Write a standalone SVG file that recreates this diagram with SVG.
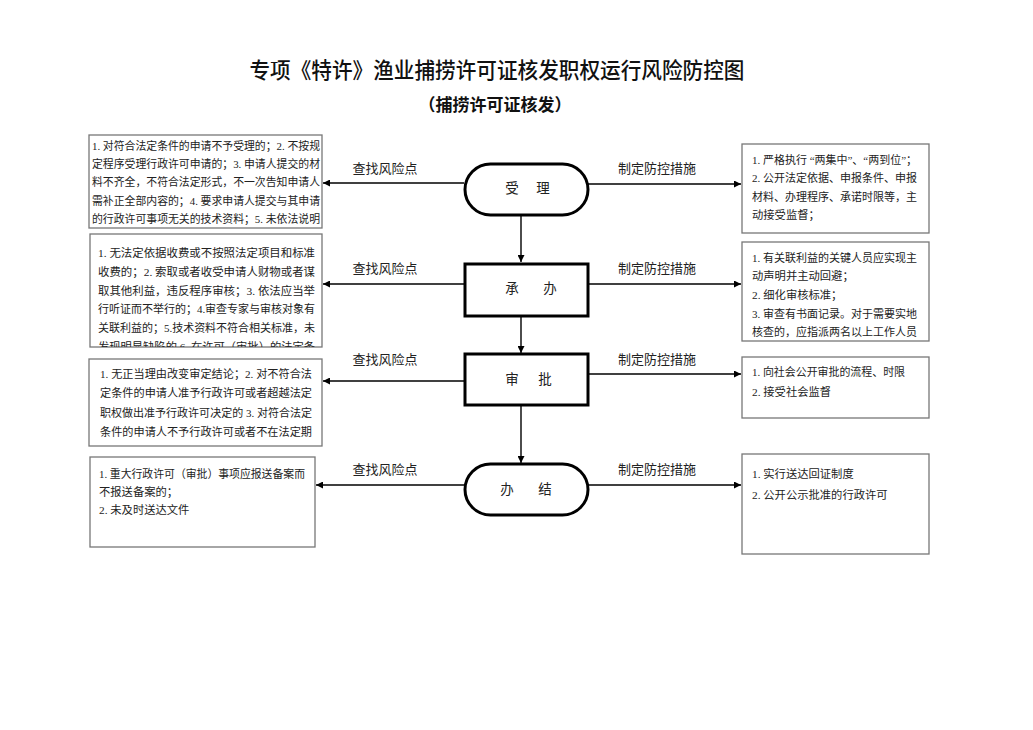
<svg xmlns="http://www.w3.org/2000/svg" width="1033" height="730" viewBox="0 0 1033 730">
<defs>
<style>
.title{font-family:"Noto Sans CJK SC","Noto Sans",sans-serif;fill:#111;}
.body{font-family:"Liberation Serif","Noto Sans CJK SC",serif;font-size:11.3px;fill:#222;}
.lbl{font-family:"Liberation Serif","Noto Sans CJK SC",serif;font-size:13px;fill:#222;}
.nodet{font-family:"Noto Sans CJK SC",serif;font-size:13.5px;fill:#222;text-anchor:middle;}
.box{fill:#fff;stroke:#777;stroke-width:1.3;}
.node{fill:#fff;stroke:#000;stroke-width:3;}
.conn{stroke:#000;stroke-width:1.4;fill:none;marker-end:url(#ah);}
</style>
<marker id="ah" viewBox="0 0 10 10" refX="10" refY="5" markerWidth="7" markerHeight="7" markerUnits="userSpaceOnUse" orient="auto">
<path d="M0,0 L10,5 L0,10 z" fill="#000"/>
</marker>
<clipPath id="clipL2"><rect x="90" y="234" width="232" height="113"/></clipPath>
</defs>
<rect width="1033" height="730" fill="#fff"/>

<g id="title">
<text class="title" x="497" y="78" font-size="21.5" font-weight="500" text-anchor="middle" textLength="495" lengthAdjust="spacingAndGlyphs">专项《特许》渔业捕捞许可证核发职权运行风险防控图</text>
<text class="title" x="495" y="111" font-size="17" font-weight="bold" text-anchor="middle">（捕捞许可证核发）</text>
</g>

<g id="connectors">
<line class="conn" x1="521" y1="215" x2="521" y2="262"/>
<line class="conn" x1="521" y1="316" x2="521" y2="353"/>
<line class="conn" x1="521" y1="405" x2="521" y2="463"/>
<line class="conn" x1="464" y1="183" x2="323" y2="183"/>
<line class="conn" x1="588" y1="184" x2="741" y2="184"/>
<line class="conn" x1="465" y1="284" x2="323" y2="284"/>
<line class="conn" x1="588" y1="284" x2="741" y2="284"/>
<line class="conn" x1="464" y1="381" x2="323" y2="381"/>
<line class="conn" x1="588" y1="374" x2="741" y2="374"/>
<line class="conn" x1="464" y1="485" x2="316" y2="485"/>
<line class="conn" x1="588" y1="485" x2="741" y2="485"/>
<text class="lbl" x="385" y="173" text-anchor="middle">查找风险点</text>
<text class="lbl" x="657" y="173" text-anchor="middle">制定防控措施</text>
<text class="lbl" x="385" y="273" text-anchor="middle">查找风险点</text>
<text class="lbl" x="657" y="273" text-anchor="middle">制定防控措施</text>
<text class="lbl" x="385" y="364" text-anchor="middle">查找风险点</text>
<text class="lbl" x="657" y="364" text-anchor="middle">制定防控措施</text>
<text class="lbl" x="385" y="474" text-anchor="middle">查找风险点</text>
<text class="lbl" x="657" y="474" text-anchor="middle">制定防控措施</text>
</g>

<g id="node-shouli">
<rect class="node" x="465" y="164" width="123" height="51" rx="25.5"/>
<text class="nodet" x="512" y="193">受</text>
<text class="nodet" x="543" y="193">理</text>
</g>
<g id="node-chengban">
<rect class="node" x="465" y="264" width="123" height="52"/>
<text class="nodet" x="512" y="293">承</text>
<text class="nodet" x="550" y="293">办</text>
</g>
<g id="node-shenpi">
<rect class="node" x="465" y="354" width="123" height="51"/>
<text class="nodet" x="512" y="384">审</text>
<text class="nodet" x="545" y="384">批</text>
</g>
<g id="node-banjie">
<rect class="node" x="465" y="464" width="123" height="51" rx="25.5"/>
<text class="nodet" x="507" y="494">办</text>
<text class="nodet" x="545" y="494">结</text>
</g>

<g id="risk-1">
<rect class="box" x="89" y="135" width="233" height="93"/>
<text class="body" x="92" y="150" textLength="228" lengthAdjust="spacingAndGlyphs">1. 对符合法定条件的申请不予受理的；2. 不按规</text>
<text class="body" x="92" y="168" textLength="228" lengthAdjust="spacingAndGlyphs">定程序受理行政许可申请的；3. 申请人提交的材</text>
<text class="body" x="92" y="186" textLength="228" lengthAdjust="spacingAndGlyphs">料不齐全，不符合法定形式，不一次告知申请人</text>
<text class="body" x="92" y="205" textLength="228" lengthAdjust="spacingAndGlyphs">需补正全部内容的；4. 要求申请人提交与其申请</text>
<text class="body" x="92" y="223" textLength="228" lengthAdjust="spacingAndGlyphs">的行政许可事项无关的技术资料；5. 未依法说明</text>
</g>

<g id="risk-2">
<rect class="box" x="90" y="234" width="232" height="113"/>
<text class="body" x="98" y="257" textLength="217" lengthAdjust="spacingAndGlyphs">1. 无法定依据收费或不按照法定项目和标准</text>
<text class="body" x="98" y="276" textLength="217" lengthAdjust="spacingAndGlyphs">收费的；2. 索取或者收受申请人财物或者谋</text>
<text class="body" x="98" y="295" textLength="217" lengthAdjust="spacingAndGlyphs">取其他利益，违反程序审核；3. 依法应当举</text>
<text class="body" x="98" y="313" textLength="217" lengthAdjust="spacingAndGlyphs">行听证而不举行的；4.审查专家与审核对象有</text>
<text class="body" x="98" y="332" textLength="217" lengthAdjust="spacingAndGlyphs">关联利益的；5.技术资料不符合相关标准，未</text>
<text class="body" x="98" y="351" textLength="217" lengthAdjust="spacingAndGlyphs" clip-path="url(#clipL2)">发现明显缺陷的 6. 在许可（审批）的法定条</text>
</g>

<g id="risk-3">
<rect class="box" x="89" y="359" width="233" height="87"/>
<text class="body" x="100" y="378" textLength="212" lengthAdjust="spacingAndGlyphs">1. 无正当理由改变审定结论；2. 对不符合法</text>
<text class="body" x="100" y="397" textLength="212" lengthAdjust="spacingAndGlyphs">定条件的申请人准予行政许可或者超越法定</text>
<text class="body" x="100" y="417" textLength="212" lengthAdjust="spacingAndGlyphs">职权做出准予行政许可决定的 3. 对符合法定</text>
<text class="body" x="100" y="436" textLength="212" lengthAdjust="spacingAndGlyphs">条件的申请人不予行政许可或者不在法定期</text>
</g>

<g id="risk-4">
<rect class="box" x="90" y="457" width="225" height="90"/>
<text class="body" x="99" y="478" textLength="206" lengthAdjust="spacingAndGlyphs">1. 重大行政许可（审批）事项应报送备案而</text>
<text class="body" x="99" y="496">不报送备案的；</text>
<text class="body" x="99" y="514">2. 未及时送达文件</text>
</g>

<g id="measure-1">
<rect class="box" x="742" y="144" width="187" height="89"/>
<text class="body" x="752" y="164" textLength="165" lengthAdjust="spacingAndGlyphs">1. 严格执行 “两集中”、“两到位”；</text>
<text class="body" x="752" y="182" textLength="165" lengthAdjust="spacingAndGlyphs">2.  公开法定依据、申报条件、申报</text>
<text class="body" x="752" y="201" textLength="165" lengthAdjust="spacingAndGlyphs">材料、办理程序、承诺时限等，主</text>
<text class="body" x="752" y="219">动接受监督；</text>
</g>

<g id="measure-2">
<rect class="box" x="742" y="242" width="187" height="99"/>
<text class="body" x="752" y="262" textLength="165" lengthAdjust="spacingAndGlyphs">1. 有关联利益的关键人员应实现主</text>
<text class="body" x="752" y="280">动声明并主动回避；</text>
<text class="body" x="752" y="299">2. 细化审核标准；</text>
<text class="body" x="752" y="318" textLength="165" lengthAdjust="spacingAndGlyphs">3. 审查有书面记录。对于需要实地</text>
<text class="body" x="752" y="336" textLength="165" lengthAdjust="spacingAndGlyphs">核查的，应指派两名以上工作人员</text>
</g>

<g id="measure-3">
<rect class="box" x="742" y="357" width="187" height="61"/>
<text class="body" x="752" y="376" textLength="153" lengthAdjust="spacingAndGlyphs">1. 向社会公开审批的流程、时限</text>
<text class="body" x="752" y="396">2. 接受社会监督</text>
</g>

<g id="measure-4">
<rect class="box" x="742" y="454" width="187" height="100"/>
<text class="body" x="752" y="478">1. 实行送达回证制度</text>
<text class="body" x="752" y="499">2. 公开公示批准的行政许可</text>
</g>
</svg>
